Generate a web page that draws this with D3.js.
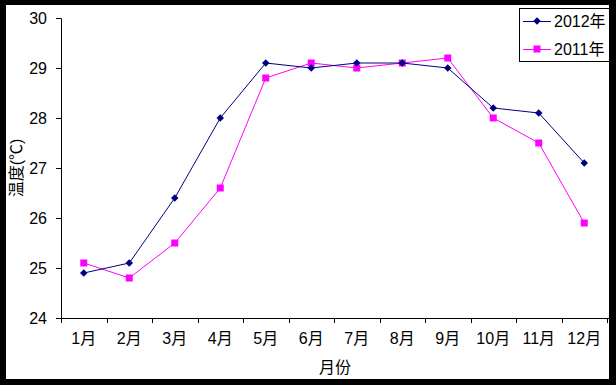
<html>
<head>
<meta charset="utf-8">
<script src="https://cdn.jsdelivr.net/npm/d3@7"></script>
<style>
  body { margin: 0; background: #fff; }
  text { font-family: "Liberation Sans", "Noto Sans CJK SC", sans-serif; }
</style>
</head>
<body>
<svg width="616" height="385"></svg>
<script>
var months = ["1月", "2月", "3月", "4月", "5月", "6月", "7月", "8月", "9月", "10月", "11月", "12月"];
var temp2012 = [24.9, 25.1, 26.4, 28.0, 29.1, 29.0, 29.1, 29.1, 29.0, 28.2, 28.1, 27.1];
var temp2011 = [25.1, 24.8, 25.5, 26.6, 28.8, 29.1, 29.0, 29.1, 29.2, 28.0, 27.5, 25.9];
var yTicks = [24, 25, 26, 27, 28, 29, 30];

var svg = d3.select("svg");

// outer black frame
svg.append("rect").attr("width", 616).attr("height", 385).attr("fill", "#000");
svg.append("rect").attr("x", 6).attr("y", 5).attr("width", 603).attr("height", 374).attr("fill", "#fff");

var margin = {left: 61, top: 18, right: 609, bottom: 318};

var x = d3.scaleBand().domain(months).range([margin.left, 607]);
var y = d3.scaleLinear().domain([24, 30]).range([margin.bottom, margin.top]);

// axes
var yAxis = svg.append("g")
    .attr("transform", "translate(" + margin.left + ",0)")
    .call(d3.axisLeft(y).tickValues(yTicks).tickFormat(d3.format("d")).tickSize(5).tickPadding(9));
var xAxis = svg.append("g")
    .attr("transform", "translate(0," + margin.bottom + ")")
    .call(d3.axisBottom(x).tickSize(0).tickPadding(15));

[yAxis, xAxis].forEach(function(a) {
    a.select(".domain").attr("stroke", "#000");
    a.selectAll("text").attr("font-size", 16).attr("fill", "#000")
        .style("font-family", "'Liberation Sans', 'Noto Sans CJK SC', sans-serif");
});
xAxis.select(".domain").attr("d", "M" + margin.left + ",0.5H609");
yAxis.select(".domain").attr("d", "M-5," + margin.top + ".5H0.5V" + (margin.bottom + 0.5));

// x tick marks on category boundaries
var bounds = months.map(function(m) { return x(m); }).concat([x.range()[1]]);
xAxis.selectAll(".bnd").data(bounds).enter().append("line")
    .attr("x1", function(d) { return Math.round(d) + 0.5; })
    .attr("x2", function(d) { return Math.round(d) + 0.5; })
    .attr("y1", 0).attr("y2", 5).attr("stroke", "#000");

var cx = function(i) { return x(months[i]) + x.bandwidth() / 2; };
var line = d3.line().x(function(d, i) { return cx(i); }).y(function(d) { return y(d); });

// 2011 series
svg.append("path").attr("d", line(temp2011)).attr("fill", "none").attr("stroke", "#ff00ff").attr("stroke-width", 1);
svg.selectAll(".sq").data(temp2011).enter().append("rect")
    .attr("x", function(d, i) { return cx(i) - 3.5; })
    .attr("y", function(d) { return y(d) - 3.5; })
    .attr("width", 7).attr("height", 7).attr("fill", "#ff00ff");

// 2012 series
svg.append("path").attr("d", line(temp2012)).attr("fill", "none").attr("stroke", "#000080").attr("stroke-width", 1);
var diamond = d3.symbol().type(d3.symbolDiamond2).size(36);
svg.selectAll(".dm").data(temp2012).enter().append("path")
    .attr("d", diamond)
    .attr("transform", function(d, i) { return "translate(" + cx(i) + "," + y(d) + ")"; })
    .attr("fill", "#000080");

// axis titles
svg.append("text").attr("x", 335).attr("y", 373).attr("text-anchor", "middle")
    .attr("font-size", 16).text("月份");
svg.append("text").attr("transform", "translate(22,168) rotate(-90)").attr("text-anchor", "middle")
    .attr("font-size", 16).text("温度(℃)");

// legend
var lg = svg.append("g");
lg.append("rect").attr("x", 519.5).attr("y", 8.5).attr("width", 100).attr("height", 53)
    .attr("fill", "#fff").attr("stroke", "#000");
var series = [{name: "2012年", color: "#000080", y: 21}, {name: "2011年", color: "#ff00ff", y: 49}];
series.forEach(function(s, k) {
    lg.append("line").attr("x1", 523).attr("x2", 551).attr("y1", s.y + 0.5).attr("y2", s.y + 0.5)
        .attr("stroke", s.color);
    if (k === 0) {
        lg.append("path").attr("d", diamond).attr("transform", "translate(537," + s.y + ")").attr("fill", s.color);
    } else {
        lg.append("rect").attr("x", 533.5).attr("y", s.y - 3.5).attr("width", 7).attr("height", 7).attr("fill", s.color);
    }
    lg.append("text").attr("x", 554).attr("y", s.y + 6).attr("font-size", 16).text(s.name);
});

// right border drawn over legend
svg.append("rect").attr("x", 609).attr("y", 0).attr("width", 7).attr("height", 385).attr("fill", "#000");
</script>
</body>
</html>
